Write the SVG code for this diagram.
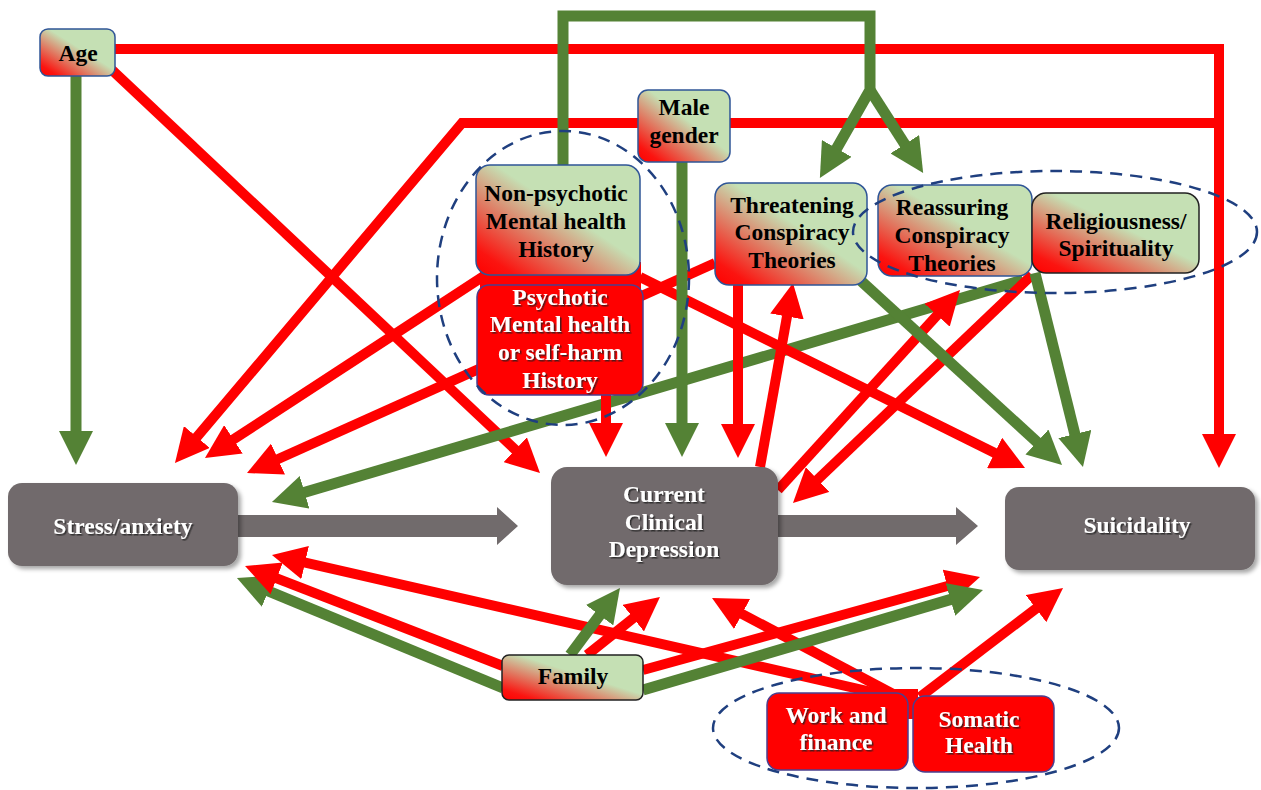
<svg xmlns="http://www.w3.org/2000/svg" width="1261" height="790" viewBox="0 0 1261 790">
<defs>
<linearGradient id="mix" x1="0" y1="1" x2="1" y2="0">
<stop offset="0" stop-color="#ff0000"/>
<stop offset="0.12" stop-color="#fb1410"/>
<stop offset="0.56" stop-color="#c5e0b4"/>
<stop offset="1" stop-color="#c5e0b4"/>
</linearGradient>
<marker id="ar" markerUnits="userSpaceOnUse" markerWidth="34" markerHeight="34" refX="20" refY="17" orient="auto"><path d="M0,0 L34,17 L0,34 z" fill="#ff0000"/></marker>
<marker id="ag" markerUnits="userSpaceOnUse" markerWidth="34" markerHeight="34" refX="20" refY="17" orient="auto"><path d="M0,0 L34,17 L0,34 z" fill="#548235"/></marker>
<filter id="sh" x="-10%" y="-10%" width="130%" height="130%"><feDropShadow dx="3" dy="3" stdDeviation="2" flood-color="#000" flood-opacity="0.35"/></filter>
<filter id="ts" x="-10%" y="-20%" width="130%" height="150%"><feDropShadow dx="1.5" dy="1.5" stdDeviation="0.7" flood-color="#222" flood-opacity="0.8"/></filter>
</defs>
<style>
.r{fill:none;stroke:#ff0000;stroke-width:10;stroke-linejoin:miter}
.g{fill:none;stroke:#548235;stroke-width:11;stroke-linejoin:miter}
.ra{marker-end:url(#ar)}
.ga{marker-end:url(#ag)}
.lt{fill:url(#mix);stroke:#2f5597;stroke-width:1.5}
.lk{fill:url(#mix);stroke:#222;stroke-width:1.5}
.rd{fill:#ff0000;stroke:#4b3f8f;stroke-width:1.5}
.gy{fill:#716b6c;filter:url(#sh)}
text{font-family:"Liberation Serif","Times New Roman",serif;font-weight:bold;font-size:23.5px;text-anchor:middle}
.bk{fill:#000}
.wt{fill:#fff;filter:url(#ts)}
.el{fill:none;stroke:#1f3f7f;stroke-width:2.5;stroke-dasharray:12 8}
</style>
<rect width="1261" height="790" fill="#fff"/>

<g id="connectors">
<path class="r ra" d="M115 49 H1219 V454"/>
<path class="r" d="M730 123 H1219"/>
<path class="r ra" d="M638 123 H462 L184 452.3"/>
<path class="g ga" d="M76 76 V451"/>
<path class="r ra" d="M112 70 L529.8 463.4"/>
<path class="r ra" d="M490 272 L216.7 450.3"/>
<path class="r ra" d="M715 263 L259.8 467.3"/>
<path class="g ga" d="M1023 280 L285.4 498"/>
<path class="r ra" d="M640 277 L1012.5 461.8"/>
<path class="g ga" d="M563 165 V16 H870 V90 L826.8 165.8"/>
<path class="g ga" d="M870 90 L915.6 161.1"/>
<path class="g ga" d="M682 162 V443"/>
<path class="r ra" d="M606 395 V443"/>
<path class="r ra" d="M738 285 V444"/>
<path class="r ra" d="M760 467 L790.5 296.8"/>
<path class="r ra" d="M778 490 L950.6 300.4"/>
<path class="r ra" d="M1032 275 L803.1 493.3"/>
<path class="g ga" d="M860 280 L1051.7 455.5"/>
<path class="g ga" d="M1035 273 L1079.6 453.4"/>
<path class="g ga" d="M503 688 L249.9 583.4"/>
<path class="r ra" d="M503 666 L258.1 571.1"/>
<path class="r ra" d="M885 695 L285.6 558.1"/>
<path class="g ga" d="M570 655 L611.6 599.2"/>
<path class="r ra" d="M587 655 L649 605.7"/>
<path class="r ra" d="M895 695 L724.4 604.6"/>
<path class="r ra" d="M643 670 L966.5 580.7"/>
<path class="g ga" d="M643 690 L969.6 593.9"/>
<path class="r ra" d="M920 697 L1051.9 596.5"/>
<polygon fill="#716b6c" points="236,515 497,515 497,507 518,526 497,545 497,537 236,537"/>
<polygon fill="#716b6c" points="776,515 956,515 956,507 978,526 956,545 956,537 776,537"/>
</g>

<g id="age"><rect class="lt" x="40" y="29" width="75" height="47" rx="8"/><text class="bk" x="78" y="61">Age</text></g>
<g id="male-gender"><rect class="lt" x="638" y="90" width="92" height="72" rx="10"/><text class="bk" x="684" y="115">Male</text><text class="bk" x="684" y="143">gender</text></g>
<g id="psychotic"><rect x="480" y="262" width="161" height="32" fill="#ff0000"/><rect class="rd" x="477" y="285" width="166" height="110" rx="12"/><text class="wt" x="560" y="305">Psychotic</text><text class="wt" x="560" y="332">Mental health</text><text class="wt" x="560" y="360">or self-harm</text><text class="wt" x="560" y="388">History</text></g>
<g id="non-psychotic"><rect class="lt" x="476" y="165" width="164" height="110" rx="14"/><text class="bk" x="556" y="201">Non-psychotic</text><text class="bk" x="556" y="229">Mental health</text><text class="bk" x="556" y="257">History</text></g>
<g id="threatening"><rect class="lt" x="715" y="183" width="152" height="102" rx="14"/><text class="bk" x="792" y="213">Threatening</text><text class="bk" x="792" y="240">Conspiracy</text><text class="bk" x="792" y="268">Theories</text></g>
<g id="reassuring"><rect class="lt" x="878" y="185" width="154" height="91" rx="14"/><text class="bk" x="952" y="215">Reassuring</text><text class="bk" x="952" y="243">Conspiracy</text><text class="bk" x="952" y="271">Theories</text></g>
<g id="religiousness"><rect class="lk" x="1032" y="193" width="167" height="80" rx="14"/><text class="bk" x="1116" y="229">Religiousness/</text><text class="bk" x="1116" y="256">Spirituality</text></g>
<g id="stress"><rect class="gy" x="8" y="483" width="230" height="83" rx="14"/><text class="wt" x="123" y="534">Stress/anxiety</text></g>
<g id="depression"><rect class="gy" x="551" y="467" width="227" height="118" rx="16"/><text class="wt" x="664" y="502">Current</text><text class="wt" x="664" y="530">Clinical</text><text class="wt" x="664" y="557">Depression</text></g>
<g id="suicidality"><rect class="gy" x="1005" y="487" width="250" height="83" rx="14"/><text class="wt" x="1137" y="533">Suicidality</text></g>
<g id="family"><rect class="lk" x="502" y="655" width="141" height="45" rx="7"/><text class="bk" x="573" y="684">Family</text></g>
<g id="work"><rect x="888" y="689" width="30" height="30" fill="#ff0000"/><rect class="rd" x="767" y="693" width="141" height="77" rx="12"/><text class="wt" x="836" y="723">Work and</text><text class="wt" x="836" y="750">finance</text></g>
<g id="somatic"><rect class="rd" x="913" y="696" width="141" height="76" rx="12"/><text class="wt" x="979" y="727">Somatic</text><text class="wt" x="979" y="753">Health</text></g>

<g id="groups">
<ellipse class="el" cx="563" cy="278" rx="126" ry="147"/>
<ellipse class="el" cx="1055" cy="232" rx="202" ry="61"/>
<ellipse class="el" cx="916" cy="728" rx="203" ry="60"/>
</g>
</svg>
